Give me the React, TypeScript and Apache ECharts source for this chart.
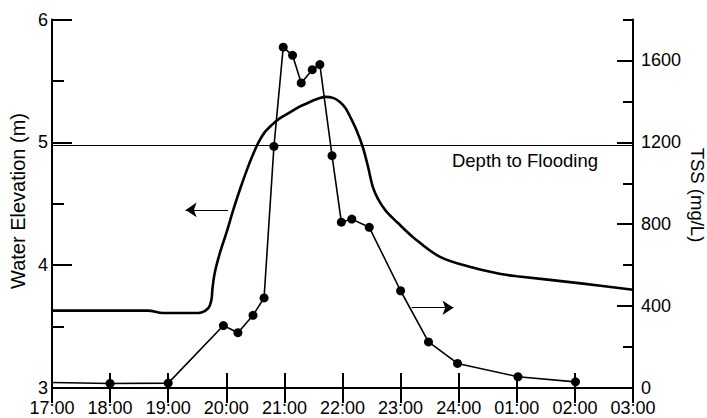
import React, { useEffect, useRef } from "react";
import * as echarts from "echarts";

const hourTicks = [17, 18, 19, 20, 21, 22, 23, 24, 25, 26, 27];
const hourLabels = ["17:00", "18:00", "19:00", "20:00", "21:00", "22:00", "23:00", "24:00", "01:00", "02:00", "03:00"];

const elevHours = [17.0, 18.0, 18.65, 18.91, 19.45, 19.57, 19.69, 19.745, 19.76, 19.8, 19.89, 20.0, 20.12, 20.23, 20.35, 20.45, 20.55, 20.65, 20.78, 20.92, 21.1, 21.26, 21.4, 21.55, 21.7, 21.85, 21.95, 22.05, 22.14, 22.24, 22.35, 22.44, 22.52, 22.61, 22.75, 22.95, 23.21, 23.67, 24.24, 24.7, 25.0, 26.14, 27.0];
const elevValues = [3.63, 3.63, 3.63, 3.61, 3.61, 3.615, 3.65, 3.72, 3.8, 3.935, 4.1, 4.26, 4.45, 4.61, 4.77, 4.89, 4.995, 5.075, 5.14, 5.195, 5.245, 5.29, 5.32, 5.35, 5.37, 5.36, 5.33, 5.28, 5.2, 5.1, 4.96, 4.8, 4.64, 4.54, 4.44, 4.345, 4.23, 4.07, 3.98, 3.93, 3.91, 3.85, 3.8];

const tssHours = [17.0, 18.0, 19.0, 19.95, 20.2, 20.46, 20.65, 20.82, 20.98, 21.14, 21.29, 21.48, 21.61, 21.82, 21.98, 22.16, 22.46, 23.0, 23.48, 23.98, 25.02, 26.01];
const tssValues = [27, 22, 24, 305, 270, 355, 440, 1180, 1665, 1625, 1490, 1555, 1580, 1135, 810, 825, 785, 475, 225, 120, 55, 30];

const floodLevel = 4.98;
const leftArrow = { from: [20.03, 4.45], to: [19.3, 4.45] };
const rightArrow = { from: [23.19, 392], to: [23.91, 392] };

const FONT = "Liberation Sans, Arial, Helvetica, sans-serif";

export default function App() {
  const ref = useRef<HTMLDivElement>(null);
  useEffect(() => {
    if (!ref.current) return;
    const chart = echarts.init(ref.current, null, { renderer: "svg" });
    const labelStyle = { color: "#000", fontSize: 18, fontFamily: FONT };
    const xBase = {
      type: "value",
      min: 17,
      max: 27,
      interval: 1,
      axisLine: { show: true, lineStyle: { color: "#000", width: 2 } },
      axisTick: { show: true, inside: true, length: 15, lineStyle: { color: "#000", width: 2 } },
      splitLine: { show: false },
    };
    chart.setOption({
      animation: false,
      backgroundColor: "#fff",
      textStyle: { fontFamily: FONT },
      grid: { left: 52, right: 74, top: 19.5, bottom: 30 },
      xAxis: [
        {
          ...xBase,
          position: "bottom",
          axisLabel: {
            ...labelStyle,
            margin: 11,
            formatter: (v: number) => {
              const i = hourTicks.indexOf(Math.round(v));
              return i >= 0 ? hourLabels[i] : "";
            },
          },
        },
        { ...xBase, position: "top", axisLabel: { show: false } },
      ],
      yAxis: [
        {
          type: "value",
          position: "left",
          min: 3,
          max: 6,
          interval: 1,
          axisLine: { show: true, lineStyle: { color: "#000", width: 2 } },
          axisTick: { show: true, inside: true, length: 20, lineStyle: { color: "#000", width: 2 } },
          minorTick: { show: true, splitNumber: 2, length: 12, lineStyle: { color: "#000", width: 2 } },
          axisLabel: { ...labelStyle, margin: 4 },
          splitLine: { show: false },
        },
        {
          type: "value",
          position: "right",
          min: 0,
          max: 1800,
          interval: 400,
          axisLine: { show: true, lineStyle: { color: "#000", width: 2 } },
          axisTick: { show: true, inside: true, length: 16, lineStyle: { color: "#000", width: 2 } },
          axisLabel: { ...labelStyle, margin: 8, showMaxLabel: false, formatter: (v: number) => String(v) },
          splitLine: { show: false },
        },
        {
          type: "value",
          position: "right",
          min: 0,
          max: 1800,
          interval: 200,
          axisLine: { show: false },
          axisTick: { show: true, inside: true, length: 10, lineStyle: { color: "#000", width: 2 } },
          axisLabel: { show: false },
          splitLine: { show: false },
        },
      ],
      series: [
        {
          type: "line",
          name: "Water Elevation",
          xAxisIndex: 0,
          yAxisIndex: 0,
          data: elevHours.map((h, i) => [h, elevValues[i]]),
          showSymbol: false,
          symbol: "none",
          smooth: 0.35,
          lineStyle: { color: "#000", width: 2.6 },
          markLine: {
            silent: true,
            symbol: ["none", "none"],
            label: { show: false },
            lineStyle: { color: "#000", width: 1, type: "solid" },
            data: [
              { yAxis: floodLevel },
              [
                { coord: leftArrow.from, symbol: "none" },
                { coord: leftArrow.to, symbol: "arrow", symbolSize: 11 },
              ],
            ],
          },
        },
        {
          type: "line",
          name: "TSS",
          xAxisIndex: 0,
          yAxisIndex: 1,
          data: tssHours.map((h, i) =>
            i === 0 ? { value: [h, tssValues[i]], symbol: "none" } : [h, tssValues[i]]
          ),
          symbol: "circle",
          symbolSize: 9,
          showAllSymbol: true,
          itemStyle: { color: "#000" },
          lineStyle: { color: "#000", width: 1.6 },
          markLine: {
            silent: true,
            symbol: ["none", "none"],
            label: { show: false },
            lineStyle: { color: "#000", width: 1.2, type: "solid" },
            data: [
              [
                { coord: rightArrow.from, symbol: "none" },
                { coord: rightArrow.to, symbol: "arrow", symbolSize: 11 },
              ],
            ],
          },
        },
      ],
      graphic: [
        {
          type: "text",
          x: 18,
          y: 201,
          rotation: Math.PI / 2,
          style: {
            text: "Water Elevation (m)",
            fontSize: 20,
            fontFamily: FONT,
            fill: "#000",
            align: "center",
            verticalAlign: "middle",
          },
        },
        {
          type: "text",
          x: 697,
          y: 195,
          rotation: -Math.PI / 2,
          style: {
            text: "TSS (mg/L)",
            fontSize: 18.5,
            fontFamily: FONT,
            fill: "#000",
            align: "center",
            verticalAlign: "middle",
          },
        },
        {
          type: "text",
          x: 598,
          y: 160,
          style: {
            text: "Depth to Flooding",
            fontSize: 18.5,
            fontFamily: FONT,
            fill: "#000",
            align: "right",
            verticalAlign: "middle",
          },
        },
      ],
    });
    return () => chart.dispose();
  }, []);
  return (
    <div
      ref={ref}
      style={{ position: "fixed", left: 0, top: 0, width: 707, height: 418, background: "#fff" }}
    />
  );
}
